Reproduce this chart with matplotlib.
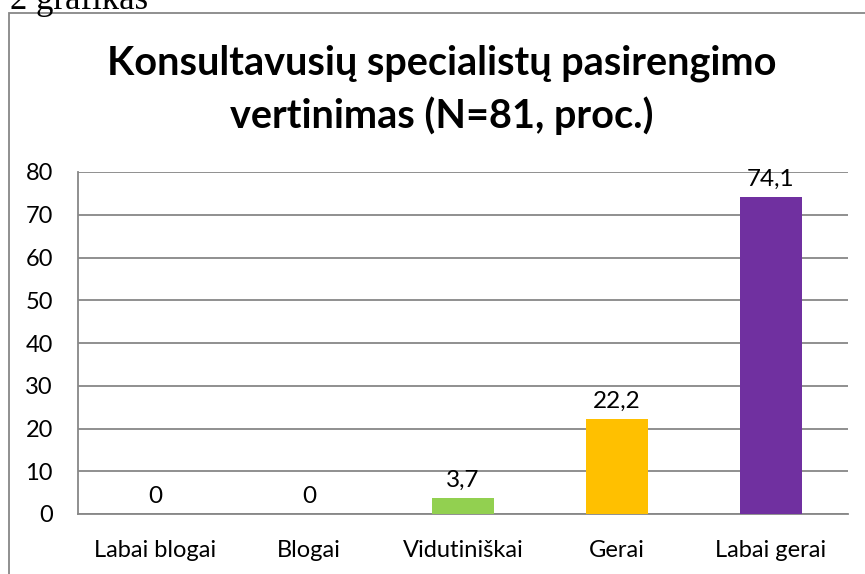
import matplotlib.pyplot as plt
from matplotlib.patches import Rectangle

categories = ['Labai blogai', 'Blogai', 'Vidutiniškai', 'Gerai', 'Labai gerai']
values = [0, 0, 3.7, 22.2, 74.1]
labels = ['0', '0', '3,7', '22,2', '74,1']
colors = ['#4F81BD', '#C0504D', '#92D050', '#FFC000', '#7030A0']

plt.rcParams['font.family'] = ['Lato', 'DejaVu Sans']

fig = plt.figure(figsize=(8.65, 5.74), dpi=100)

# outer chart border (left and top visible, rest is cut off)
fig.add_artist(Rectangle((9 / 865, -0.1), 1.2, 1 - 13 / 574 + 0.1,
                         transform=fig.transFigure, fill=False,
                         edgecolor='#878787', linewidth=1.3))

fig.text(10 / 865, 1 - 9 / 574, '2 grafikas', family='Liberation Serif',
         fontsize=25, ha='left', va='baseline')

fig.text(442 / 865, 1 - 74 / 574, 'Konsultavusių specialistų pasirengimo',
         fontsize=28.5, fontweight='bold', ha='center', va='baseline')
fig.text(442 / 865, 1 - 128 / 574, 'vertinimas (N=81, proc.)',
         fontsize=28.5, fontweight='bold', ha='center', va='baseline')

ax = fig.add_axes([78 / 865, 1 - 514 / 574, (848 - 78) / 865, (514 - 172) / 574])
x = range(len(categories))
bars = ax.bar(x, values, width=0.4, color=colors, zorder=3)
for b, lab in zip(bars, labels):
    ax.annotate(lab, (b.get_x() + b.get_width() / 2, b.get_height()),
                xytext=(0, 5), textcoords='offset points',
                ha='center', va='bottom', fontsize=17.5)

ax.set_xlim(-0.5, 4.5)
ax.set_ylim(0, 80)
ax.set_yticks(range(0, 81, 10))
ax.set_xticks(list(x))
ax.set_xticklabels(categories)
ax.tick_params(axis='both', length=0, labelsize=17)
ax.tick_params(axis='y', pad=18)
ax.tick_params(axis='x', pad=19)
ax.yaxis.grid(True, color='#878787', linewidth=1.3, zorder=0)
for s in ['top', 'right']:
    ax.spines[s].set_visible(False)
for s in ['left', 'bottom']:
    ax.spines[s].set_color('#878787')
    ax.spines[s].set_linewidth(1.3)

fig.savefig('out.png', dpi=100)
